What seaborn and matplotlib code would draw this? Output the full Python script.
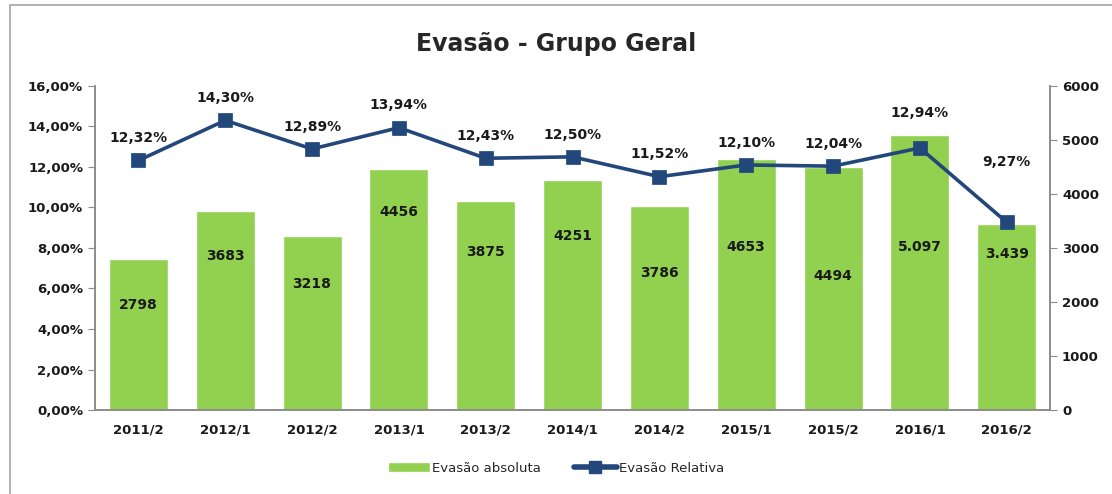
import numpy as np
import pandas as pd
import seaborn as sns
import matplotlib.pyplot as plt
from matplotlib.patches import Patch, Rectangle
from matplotlib.lines import Line2D
from matplotlib.ticker import FuncFormatter

# Dados
periodos = ["2011/2", "2012/1", "2012/2", "2013/1", "2013/2", "2014/1",
            "2014/2", "2015/1", "2015/2", "2016/1", "2016/2"]
evasao_absoluta = [2798, 3683, 3218, 4456, 3875, 4251, 3786, 4653, 4494, 5097, 3439]
rotulos_absoluta = ["2798", "3683", "3218", "4456", "3875", "4251",
                    "3786", "4653", "4494", "5.097", "3.439"]
evasao_relativa = [12.32, 14.30, 12.89, 13.94, 12.43, 12.50, 11.52, 12.10, 12.04, 12.94, 9.27]
# altura (em unidades da barra) onde o rótulo foi colocado no gráfico original
altura_rotulo = [1944, 2852, 2333, 3667, 2926, 3222, 2537, 3019, 2481, 3019, 2889]
# deslocamento (pt) dos rótulos da linha acima de cada ponto
desloc_rotulo = [11, 11, 11, 11, 11, 11, 11, 11, 11, 20, 38]

df = pd.DataFrame({"periodo": periodos, "absoluta": evasao_absoluta,
                   "relativa": evasao_relativa})

sns.set_style("white")
plt.rcParams["font.family"] = ["DejaVu Sans"]

verde = "#92D050"
azul = "#22477A"
cinza = "#8C8C8C"

fig = plt.figure(figsize=(11.12, 4.94), dpi=100)
ax = fig.add_axes([0.0854, 0.17, 0.859, 0.656])

# Barras (eixo da direita)
sns.barplot(data=df, x="periodo", y="absoluta", color=verde, width=0.68,
            saturation=1, ax=ax)
ax.set_ylim(0, 6000)
ax.set_yticks(range(0, 6001, 1000))
for i, (txt, h) in enumerate(zip(rotulos_absoluta, altura_rotulo)):
    ax.text(i, h, txt, ha="center", va="center", fontsize=10,
            fontweight="bold", color="#1a1a1a")

# Linha (eixo da esquerda)
ax2 = ax.twinx()
sns.pointplot(data=df, x="periodo", y="relativa", color=azul, markers="s",
              markersize=8, linewidth=2.6, ax=ax2)
ax2.set_ylim(0, 16)
ax2.set_yticks(np.arange(0, 16.1, 2))
ax2.yaxis.set_major_formatter(FuncFormatter(lambda v, p: f"{v:.2f}%".replace(".", ",")))
for i, (v, d) in enumerate(zip(evasao_relativa, desloc_rotulo)):
    ax2.annotate(f"{v:.2f}%".replace(".", ","), (i, v), xytext=(0, d),
                 textcoords="offset points", ha="center", va="bottom",
                 fontsize=10, fontweight="bold", color="#1a1a1a")

# trocar os lados dos eixos y (depois do twinx)
ax.yaxis.tick_right()
ax.yaxis.set_label_position("right")
ax2.yaxis.tick_left()
ax2.yaxis.set_label_position("left")

ax.set_xlim(-0.5, len(periodos) - 0.5)
ax.set_xlabel("")
ax.set_ylabel("")
ax2.set_xlabel("")
ax2.set_ylabel("")

# ticks do eixo x entre as categorias
ax.set_xticks(np.arange(len(periodos)))
ax.set_xticklabels(periodos)
ax.set_xticks(np.arange(-0.5, len(periodos)), minor=True)
ax.tick_params(axis="x", which="major", length=0, pad=10)
ax.tick_params(axis="x", which="minor", length=5, color=cinza, direction="out")

for a in (ax, ax2):
    for s in a.spines.values():
        s.set_color(cinza)
        s.set_linewidth(1.2)
    a.spines["top"].set_visible(False)
    a.tick_params(axis="y", length=5, color=cinza, direction="out",
                  labelsize=9.5, labelcolor="#1a1a1a")
    a.tick_params(axis="x", labelsize=9.5, labelcolor="#1a1a1a")
    for lab in a.get_xticklabels() + a.get_yticklabels():
        lab.set_fontweight("bold")

fig.suptitle("Evasão - Grupo Geral", y=0.935, fontsize=17, fontweight="bold")

handles = [Patch(facecolor=verde, label="Evasão absoluta"),
           Line2D([0], [0], color=azul, lw=4, marker="s", markersize=8,
                  label="Evasão Relativa")]
fig.legend(handles=handles, loc="lower center", ncol=2, frameon=False,
           bbox_to_anchor=(0.5, 0.015), fontsize=9.5, handlelength=3.2,
           columnspacing=2.5, handletextpad=0.2)

# moldura externa
fig.patches.append(Rectangle((0.009, -0.01), 1.2, 1.0, transform=fig.transFigure,
                             fill=False, edgecolor="#A6A6A6", lw=1.2))

fig.savefig("out.png", dpi=100)
